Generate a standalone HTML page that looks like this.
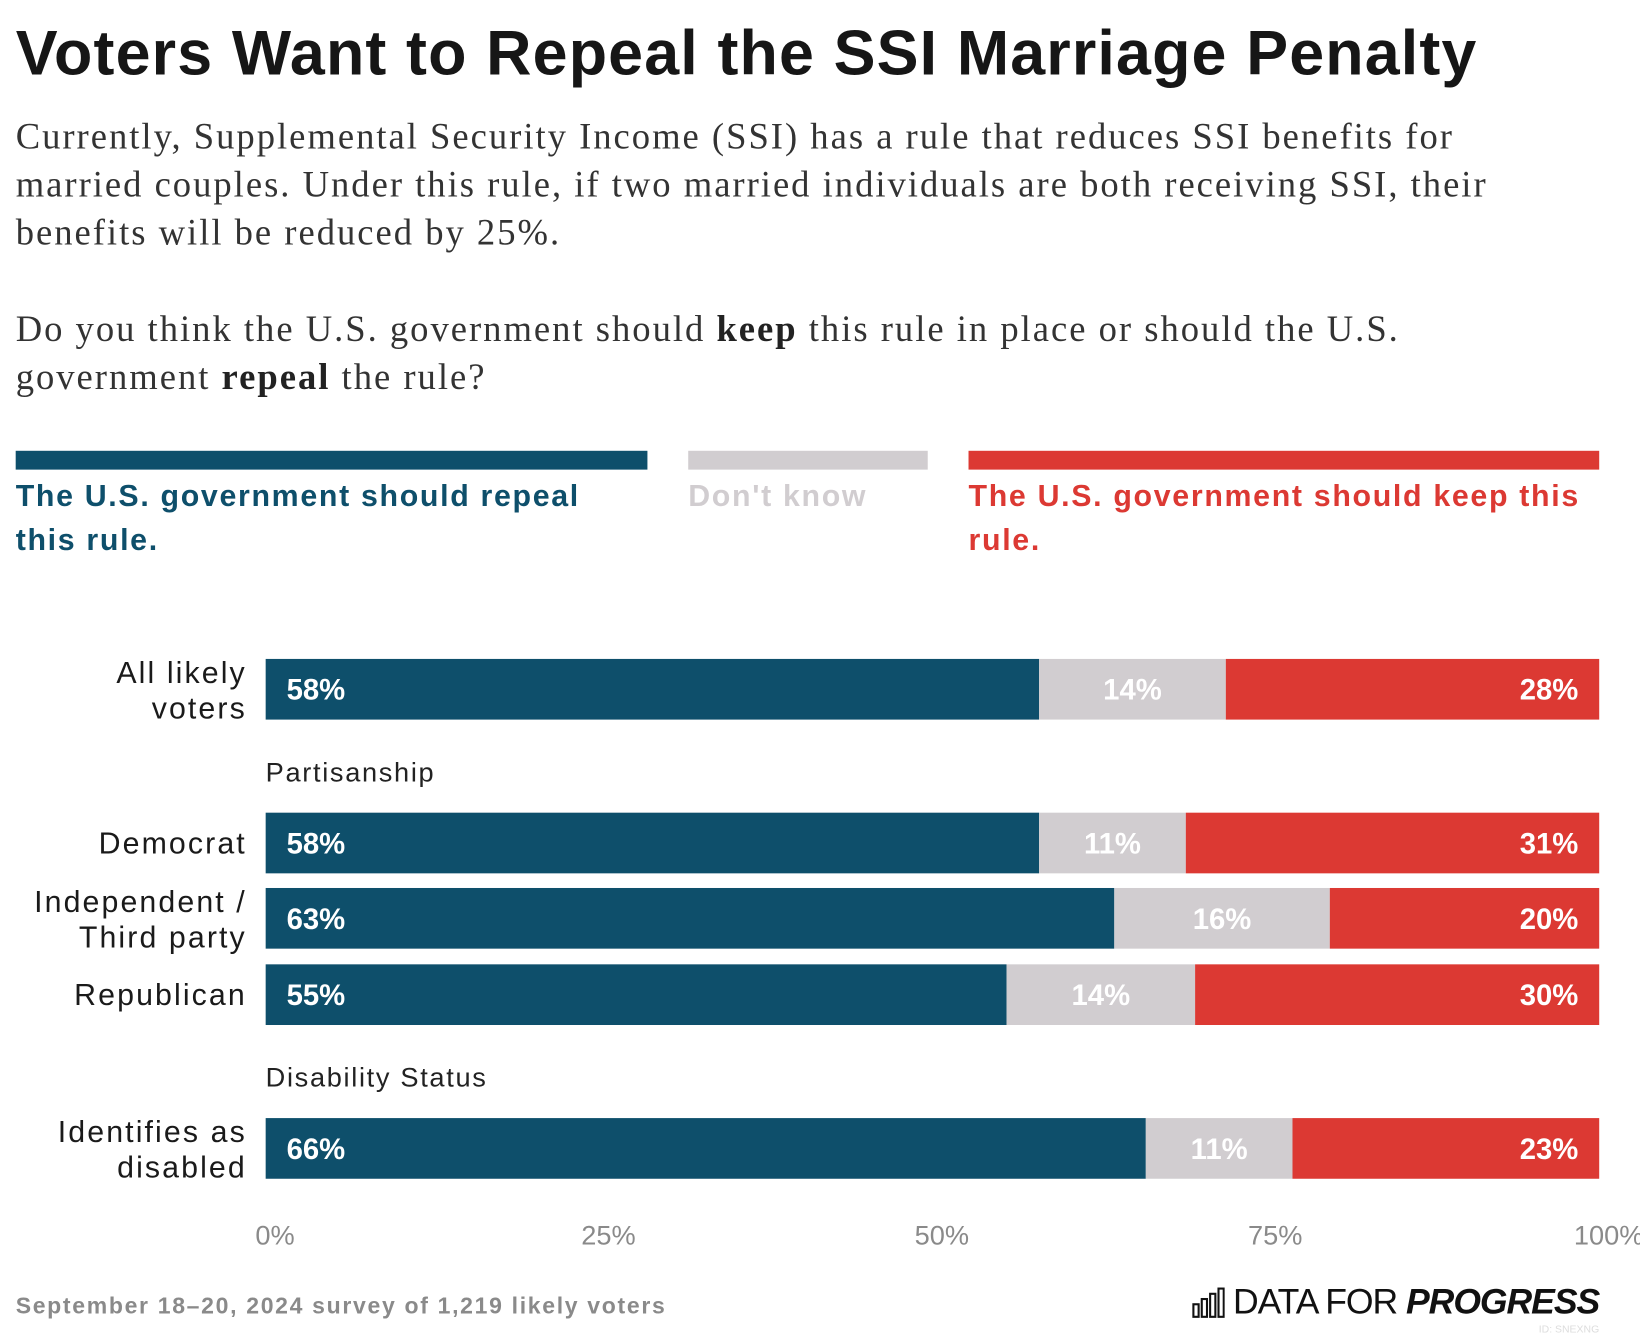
<!DOCTYPE html>
<html><head><meta charset="utf-8">
<style>
html,body{margin:0;padding:0;background:#fff;width:1640px;height:1340px;overflow:hidden}
#wrap{position:absolute;left:0;top:0;width:1568px;height:1281px;transform:scale(1.04592);transform-origin:0 0;font-family:"Liberation Sans",sans-serif;color:#1a1a1a}
.abs{position:absolute;white-space:nowrap}
h1{position:absolute;left:15px;top:16px;margin:0;font-size:60px;font-weight:bold;letter-spacing:1.1px;color:#161616;white-space:nowrap}
.para{position:absolute;left:15px;font-family:"Liberation Serif",serif;font-size:35px;letter-spacing:1.9px;line-height:46px;color:#333;white-space:nowrap}
.leg{position:absolute;font-size:29px;font-weight:bold;line-height:42px;letter-spacing:1.6px;white-space:nowrap}
</style></head><body>
<div id="wrap">
<h1>Voters Want to Repeal the SSI Marriage Penalty</h1>
<div class="para" style="top:108px">Currently, Supplemental Security Income (SSI) has a rule that reduces SSI benefits for<br>married couples. Under this rule, if two married individuals are both receiving SSI, their<br>benefits will be reduced by 25%.</div>
<div class="para" style="top:292px">Do you think the U.S. government should <b style="color:#222">keep</b> this rule in place or should the U.S.<br>government <b style="color:#222">repeal</b> the rule?</div>

<div class="abs" style="left:15px;top:431px;width:604px;height:18px;background:#0e4f6b"></div>
<div class="abs" style="left:658px;top:431px;width:229px;height:18px;background:#d1cdd0"></div>
<div class="abs" style="left:926px;top:431px;width:603px;height:18px;background:#dc3933"></div>
<div class="leg" style="left:15px;top:454px;color:#0e4f6b">The U.S. government should repeal<br>this rule.</div>
<div class="leg" style="left:658px;top:454px;color:#d1cdd0">Don't know</div>
<div class="leg" style="left:926px;top:454px;color:#dc3933">The U.S. government should keep this<br>rule.</div>

<svg id="plot" class="abs" style="left:0;top:0" width="1568" height="1281"></svg>

<div class="abs" style="left:15px;top:1236px;font-size:22px;font-weight:bold;letter-spacing:1.6px;color:#8a8a8a">September 18–20, 2024 survey of 1,219 likely voters</div>
<div class="abs" style="right:39px;top:1226px;font-size:34px;color:#111;display:flex;align-items:center">
<svg width="32" height="30" viewBox="0 0 32 30" style="margin-right:8px"><g fill="none" stroke="#111" stroke-width="2"><rect x="2" y="16" width="5" height="12"/><rect x="10" y="11" width="5" height="17"/><rect x="18" y="6" width="5" height="22"/><rect x="26" y="1" width="5" height="27"/></g></svg>
<span style="letter-spacing:-1px">DATA FOR&nbsp;<b><i>PROGRESS</i></b></span></div>
<div class="abs" style="right:39px;top:1266px;font-size:10px;color:#ddd">ID: SNEXNG</div>
</div>
<script>
const categories=["All likely voters","Democrat","Independent / Third party","Republican","Identifies as disabled"];
const labelLines=[["All likely","voters"],["Democrat"],["Independent /","Third party"],["Republican"],["Identifies as","disabled"]];
const repeal=[58,58,63,55,66];
const dontKnow=[14,11,16,14,11];
const keep=[28,31,20,30,23];
const ticks=[0,25,50,75,100];
const tickLabels=["0%","25%","50%","75%","100%"];
const rowTops=[630,777,849,922,1069];
const groupHeaders=[["Partisanship",738],["Disability Status",1030]];
const NS="http://www.w3.org/2000/svg";
const svg=document.getElementById('plot');
const X0=254,X1=1529,BH=58;
function x(v){return X0+(X1-X0)*v/100;}
function mk(t,a,txt){const e=document.createElementNS(NS,t);for(const k in a)e.setAttribute(k,a[k]);if(txt!==undefined)e.textContent=txt;svg.appendChild(e);return e;}
groupHeaders.forEach(g=>{
 const e=mk('text',{x:X0,y:g[1]+9,'font-size':26,'letter-spacing':1.6,fill:'#222','font-family':'Liberation Sans, sans-serif'},g[0]);
 
 
});
categories.forEach((c,i)=>{
 const y=rowTops[i];
 const tot=repeal[i]+dontKnow[i]+keep[i];
 const a=repeal[i]*100/tot,b=dontKnow[i]*100/tot;
 const segs=[[0,a,'#0e4f6b','repeal'],[a,a+b,'#d1cdd0','dont-know'],[a+b,100,'#dc3933','keep']];
 segs.forEach(s=>{
  const r=mk('rect',{x:x(s[0]),y:y,width:x(s[1])-x(s[0]),height:BH,fill:s[2]});
  
  
 });
 const ty=y+BH/2+10;
 const f={'font-size':28,'font-weight':'bold',fill:'#fff','font-family':'Liberation Sans, sans-serif'};
 let t=mk('text',Object.assign({x:x(0)+20,y:ty},f),repeal[i]+'%');
 
 
 t=mk('text',Object.assign({x:(x(a)+x(a+b))/2,y:ty,'text-anchor':'middle'},f),dontKnow[i]+'%');
 
 
 t=mk('text',Object.assign({x:x(100)-20,y:ty,'text-anchor':'end'},f),keep[i]+'%');
 
 
 const L=labelLines[i];
 L.forEach((ln,j)=>{
  const yy=L.length==1?y+BH/2+10:y+BH/2-6+(j*34);
  const e=mk('text',{x:236,y:yy,'text-anchor':'end','font-size':29,'letter-spacing':2,fill:'#1a1a1a','font-family':'Liberation Sans, sans-serif'},ln);
  
  
 });
});
ticks.forEach((v,i)=>{
 const e=mk('text',{x:Math.min(x(v)+9,1548),y:1190,'text-anchor':'middle','font-size':26,fill:'#8a8a8a','font-family':'Liberation Sans, sans-serif'},tickLabels[i]);
 
 
});
</script>
</body></html>
